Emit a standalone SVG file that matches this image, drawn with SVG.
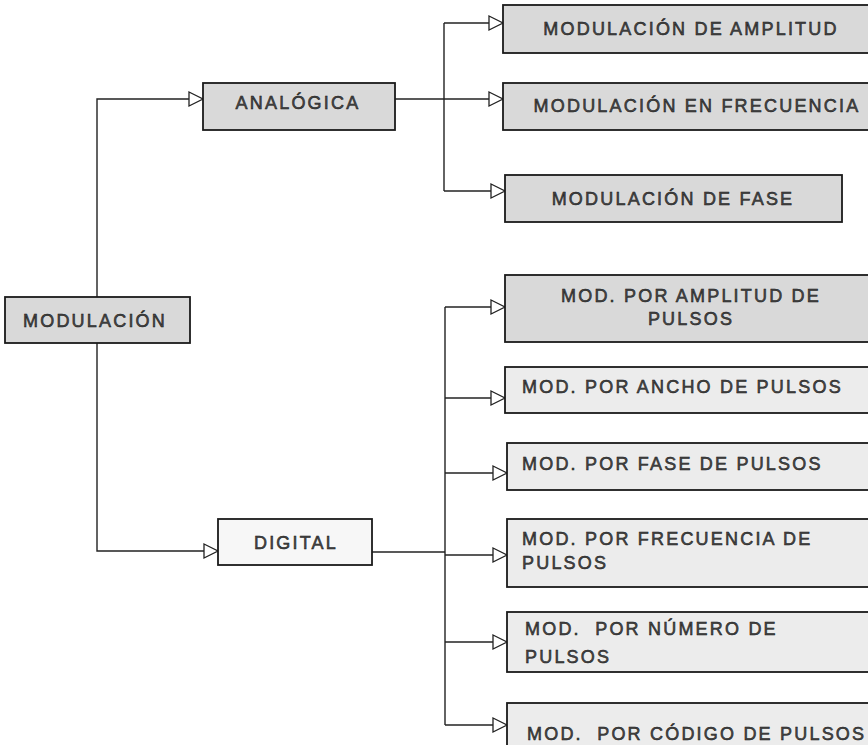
<svg xmlns="http://www.w3.org/2000/svg" width="868" height="745" viewBox="0 0 868 745">
<defs>
<marker id="arr" markerUnits="userSpaceOnUse" markerWidth="18" markerHeight="18" viewBox="0 0 18 18" refX="16" refY="9" orient="auto">
<path d="M2,2 L16,9 L2,16 Z" fill="#fff" stroke="#222" stroke-width="1.3"/>
</marker>
</defs>
<style>
.box{stroke:#1a1a1a;stroke-width:1.8}
.g1{fill:#d9d9d9}
.g2{fill:#ececec}
.g3{fill:#f7f7f7}
.t{font-family:"Liberation Sans",Arial,sans-serif;font-size:18px;letter-spacing:2.2px;fill:#4a4a4a;stroke:#111;stroke-width:0.5}
.c{text-anchor:middle}
.ln{fill:none;stroke:#222;stroke-width:1.4}
.la{fill:none;stroke:#222;stroke-width:1.4;marker-end:url(#arr)}
</style>
<g id="connectors">
<path class="la" d="M97,297 V99 H203"/>
<path class="la" d="M97,343 V551 H218"/>
<path class="ln" d="M395,99 H444"/>
<path class="ln" d="M444,23 V191"/>
<path class="la" d="M444,23 H503"/>
<path class="la" d="M444,99 H503"/>
<path class="la" d="M444,191 H505"/>
<path class="ln" d="M372,552 H445"/>
<path class="ln" d="M445,307 V725"/>
<path class="la" d="M445,307 H505"/>
<path class="la" d="M445,398 H505"/>
<path class="la" d="M445,473 H507"/>
<path class="la" d="M445,555 H507"/>
<path class="la" d="M445,642 H507"/>
<path class="la" d="M445,725 H507"/>
</g>
<g id="n-modulacion">
<rect class="box g1" x="5" y="297" width="185" height="46"/>
<text class="t c" x="95" y="327">MODULACIÓN</text>
</g>
<g id="n-analogica">
<rect class="box g1" x="203" y="83" width="192" height="47"/>
<text class="t c" x="298" y="109">ANALÓGICA</text>
</g>
<g id="n-digital">
<rect class="box g3" x="218" y="519" width="154" height="46"/>
<text class="t c" x="296" y="549">DIGITAL</text>
</g>
<g id="n-am">
<rect class="box g1" x="503" y="5" width="372" height="48"/>
<text class="t c" x="691" y="35">MODULACIÓN DE AMPLITUD</text>
</g>
<g id="n-fm">
<rect class="box g1" x="503" y="83" width="372" height="47"/>
<text class="t c" x="697" y="112">MODULACIÓN EN FRECUENCIA</text>
</g>
<g id="n-pm">
<rect class="box g1" x="505" y="175" width="337" height="47"/>
<text class="t c" x="673" y="205">MODULACIÓN DE FASE</text>
</g>
<g id="n-pam">
<rect class="box g1" x="505" y="275" width="370" height="67"/>
<text class="t c" x="691" y="302">MOD. POR AMPLITUD DE</text>
<text class="t c" x="691" y="325">PULSOS</text>
</g>
<g id="n-pwm">
<rect class="box g2" x="505" y="367" width="370" height="46"/>
<text class="t" x="522" y="393">MOD. POR ANCHO DE PULSOS</text>
</g>
<g id="n-ppm">
<rect class="box g2" x="507" y="443" width="370" height="47"/>
<text class="t" x="522" y="470">MOD. POR FASE DE PULSOS</text>
</g>
<g id="n-pfm">
<rect class="box g2" x="507" y="519" width="370" height="68"/>
<text class="t" x="522" y="545">MOD. POR FRECUENCIA DE</text>
<text class="t" x="522" y="569">PULSOS</text>
</g>
<g id="n-pnm">
<rect class="box g2" x="507" y="612" width="370" height="60"/>
<text class="t" x="525" y="635" xml:space="preserve">MOD.  POR NÚMERO DE</text>
<text class="t" x="525" y="663">PULSOS</text>
</g>
<g id="n-pcm">
<rect class="box g2" x="507" y="703" width="370" height="60"/>
<text class="t" x="527" y="740" xml:space="preserve">MOD.  POR CÓDIGO DE PULSOS</text>
</g>
</svg>
